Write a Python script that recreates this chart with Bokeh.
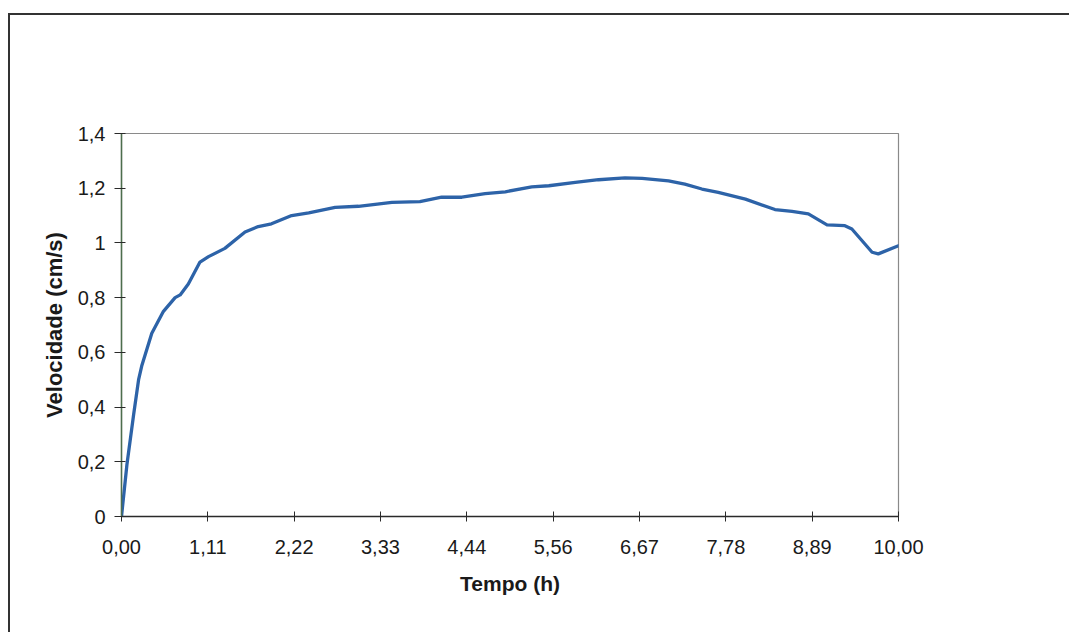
from bokeh.plotting import figure
from bokeh.models import FixedTicker, Range1d
from bokeh.embed import file_html
from bokeh.resources import INLINE

# Data
tempo_h = [0, 0.07, 0.155, 0.22, 0.26, 0.39, 0.54, 0.69, 0.755, 0.86, 1.01, 1.12, 1.33,
           1.59, 1.76, 1.93, 2.19, 2.41, 2.75, 3.05, 3.48, 3.84, 4.12, 4.38, 4.68, 4.94,
           5.28, 5.50, 5.84, 6.14, 6.48, 6.70, 7.04, 7.25, 7.47, 7.68, 8.03, 8.41, 8.63,
           8.84, 9.08, 9.31, 9.40, 9.66, 9.74, 10.0]
velocidade = [0, 0.19, 0.37, 0.50, 0.55, 0.67, 0.75, 0.80, 0.81, 0.85, 0.93, 0.95, 0.98,
              1.04, 1.06, 1.07, 1.10, 1.11, 1.13, 1.134, 1.148, 1.151, 1.167, 1.167, 1.18,
              1.187, 1.205, 1.209, 1.221, 1.231, 1.238, 1.236, 1.227, 1.215, 1.197, 1.185,
              1.16, 1.122, 1.115, 1.106, 1.066, 1.063, 1.051, 0.966, 0.96, 0.99]

x_tick_values = [0, 1.111, 2.222, 3.333, 4.444, 5.556, 6.667, 7.778, 8.889, 10.0]
x_tick_labels = ["0,00", "1,11", "2,22", "3,33", "4,44", "5,56", "6,67", "7,78", "8,89", "10,00"]
y_tick_values = [0, 0.2, 0.4, 0.6, 0.8, 1.0, 1.2, 1.4]
y_tick_labels = ["0", "0,2", "0,4", "0,6", "0,8", "1", "1,2", "1,4"]

FONT = "Liberation Sans"

# the outer frame of the scanned chart is drawn as CSS borders on the figure element,
# offset by margins; the figure is shrunk by the same amounts
OFF_X, OFF_Y = 10, 15

p = figure(width=1071 - OFF_X, height=634 - OFF_Y, output_backend="svg", toolbar_location=None,
           x_range=Range1d(0, 10), y_range=Range1d(0, 1.4),
           min_border_left=121 - OFF_X, min_border_right=173, min_border_top=133 - OFF_Y,
           min_border_bottom=118)
p.styles = {"margin-left": "8px", "margin-top": "13px",
            "border-left": "2px solid #333333", "border-top": "2px solid #333333"}
p.background_fill_color = "white"
p.border_fill_color = "white"
p.grid.visible = False
p.outline_line_color = "#8a8a8a"
p.outline_line_width = 1.2

p.line(tempo_h, velocidade, line_color="#2d63a8", line_width=3.3, line_join="round", line_cap="round")

# x axis
xa = p.xaxis[0]
xa.ticker = FixedTicker(ticks=x_tick_values)
xa.major_label_overrides = {v: l for v, l in zip(x_tick_values, x_tick_labels)}
xa.minor_tick_line_color = None
xa.major_tick_in = 5
xa.major_tick_out = 5
xa.axis_line_color = "#2a2a2a"
xa.axis_line_width = 1.5
xa.major_tick_line_color = "#2a2a2a"
xa.major_label_text_font = FONT
xa.major_label_text_font_size = "20px"
xa.major_label_text_color = "#1a1a1a"
xa.major_label_standoff = 18
xa.axis_label = "Tempo (h)"
xa.axis_label_text_font = FONT
xa.axis_label_text_font_size = "21px"
xa.axis_label_text_font_style = "bold"
xa.axis_label_text_color = "#1a1a1a"
xa.axis_label_standoff = 15

# y axis
ya = p.yaxis[0]
ya.ticker = FixedTicker(ticks=y_tick_values)
ya.major_label_overrides = {v: l for v, l in zip(y_tick_values, y_tick_labels)}
ya.minor_tick_line_color = None
ya.major_tick_in = 4
ya.major_tick_out = 7
ya.axis_line_color = "#4d6e4d"
ya.axis_line_width = 1.5
ya.major_tick_line_color = "#2a2a2a"
ya.major_label_text_font = FONT
ya.major_label_text_font_size = "20px"
ya.major_label_text_color = "#1a1a1a"
ya.major_label_standoff = 9
ya.axis_label = "Velocidade (cm/s)"
ya.axis_label_text_font = FONT
ya.axis_label_text_font_size = "22px"
ya.axis_label_text_font_style = "bold"
ya.axis_label_text_color = "#1a1a1a"
ya.axis_label_standoff = 8

open("out.html", "w").write(file_html(p, INLINE))
